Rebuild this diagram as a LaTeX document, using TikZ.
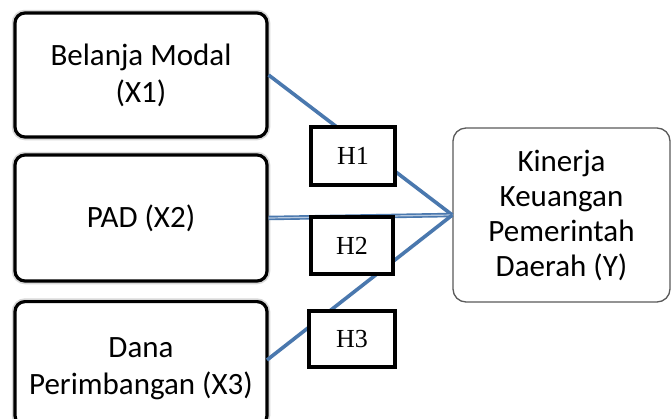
\documentclass[tikz,border=0pt]{standalone}
\usepackage{fontspec}
\setmainfont{Carlito}
\newfontfamily\hfont{Liberation Serif}
\definecolor{linkblue}{HTML}{4A78AE}
\definecolor{ygray}{HTML}{5A5A5A}
\begin{document}
\begin{tikzpicture}[x=1pt,y=-1pt,
  varbox/.style={draw=black, line width=3.2pt, rounded corners=10pt, fill=white,
    align=center, font=\fontsize{31}{37}\selectfont, inner sep=0pt,
    minimum width=252pt,
    preaction={draw=gray!60, line width=6.5pt, opacity=0.5}},
  ybox/.style={draw=ygray, line width=1.3pt, rounded corners=13pt, fill=white,
    align=center, font=\fontsize{31}{35}\selectfont, inner sep=0pt,
    minimum width=217pt, minimum height=174pt},
  hbox/.style={draw=black, line width=4.5pt, fill=white, inner sep=0pt,
    font=\hfont\fontsize{26}{30}\selectfont},
  link/.style={draw=linkblue, line width=3.6pt}]
\clip (0,0) rectangle (672,418);
\fill[white] (0,0) rectangle (672,418);
\node[varbox, minimum height=124pt] (x1) at (141,75) {Belanja Modal\\(X1)};
\node[varbox, minimum height=126pt] (x2) at (141,218) {PAD (X2)};
\node[varbox, minimum height=124pt, anchor=north] (x3) at (141,300) {\\[-6pt]Dana\\Perimbangan (X3)};
\node[ybox] (y) at (561.5,215) {Kinerja\\Keuangan\\Pemerintah\\Daerah (Y)};
\coordinate (x3out) at (267,360);
\draw[link] (x1.east) -- (y.west);
\draw[link, line width=4.5pt] (x2.east) -- (y.west);
\draw[draw=linkblue!40, line width=1.2pt] (x2.east) -- (y.west);
\draw[link] (x3out) -- (y.west);
\node[hbox, minimum width=84pt, minimum height=58pt] (h1) at (353,156) {H1};
\node[hbox, minimum width=82pt, minimum height=57pt] (h2) at (352,245.5) {H2};
\node[hbox, minimum width=86pt, minimum height=56pt] (h3) at (352,339) {H3};
\end{tikzpicture}
\end{document}
